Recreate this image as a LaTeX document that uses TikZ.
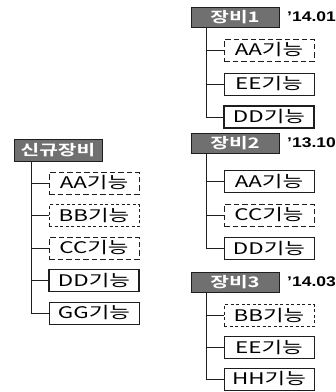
\documentclass[tikz,border=0pt]{standalone}
\usepackage{fontspec}
\usepackage{xcolor}
\usetikzlibrary{positioning}
\setmainfont{Noto Sans CJK KR}[FakeStretch=1.4,BoldFont={Noto Sans CJK KR Bold}]
\newfontfamily\datefont{Liberation Sans}[FakeStretch=1.25]
\definecolor{hdrgray}{RGB}{112,112,112}
\definecolor{linedark}{RGB}{30,30,30}

\begin{document}
\begin{tikzpicture}[
  x=1pt,y=-1pt,
  hdr/.style={rectangle,draw=linedark,thick,fill=hdrgray,text=white,minimum width=88pt,minimum height=20pt,inner sep=0pt,font=\fontsize{14.5}{15}\selectfont\bfseries},
  func/.style={rectangle,draw=linedark,line width=0.9pt,fill=white,minimum width=90pt,minimum height=22pt,inner sep=0pt,font=\fontsize{16}{16}\selectfont},
  newf/.style={func,dash pattern=on 5.5pt off 3pt},
  dotf/.style={func,dash pattern=on 3pt off 2.5pt},
  keyf/.style={func,line width=1.8pt},
  date/.style={anchor=west,inner sep=0pt,font=\datefont\bfseries\fontsize{14}{14}\selectfont},
  branch/.style={draw=linedark,line width=0.9pt}
]
\useasboundingbox (0,0) rectangle (336,392);
% new equipment
\node[hdr,minimum height=22pt] (h0) at (58,150) {신규장비};
\node[newf] (f0a) at (94,183) {AA기능};
\node[dotf] (f0b) at (94,215.5) {BB기능};
\node[newf] (f0c) at (94,248) {CC기능};
\node[keyf] (f0d) at (94,280.5) {DD기능};
\node[func] (f0g) at (94,313) {GG기능};
\draw[branch] ([xshift=18pt]h0.south west) |- (f0a.west);
\draw[branch] ([xshift=18pt]h0.south west) |- (f0b.west);
\draw[branch] ([xshift=18pt]h0.south west) |- (f0c.west);
\draw[branch] ([xshift=18pt]h0.south west) |- (f0d.west);
\draw[branch] ([xshift=18pt]h0.south west) |- (f0g.west);
% equipment 1
\node[hdr] (h1) at (235,17) {장비1};
\node[date] (d1) at (287,17) {’14.01};
\node[newf] (f1a) at (269,50) {AA기능};
\node[func] (f1e) at (269,84) {EE기능};
\node[keyf] (f1d) at (269,117) {DD기능};
\draw[branch] ([xshift=16pt]h1.south west) |- (f1a.west);
\draw[branch] ([xshift=16pt]h1.south west) |- (f1e.west);
\draw[branch] ([xshift=16pt]h1.south west) |- (f1d.west);
% equipment 2
\node[hdr] (h2) at (235,143) {장비2};
\node[date] (d2) at (287,143) {’13.10};
\node[func] (f2a) at (269,181.5) {AA기능};
\node[newf] (f2c) at (269,215) {CC기능};
\node[func] (f2d) at (269,248.5) {DD기능};
\draw[branch] ([xshift=16pt]h2.south west) |- (f2a.west);
\draw[branch] ([xshift=16pt]h2.south west) |- (f2c.west);
\draw[branch] ([xshift=16pt]h2.south west) |- (f2d.west);
% equipment 3
\node[hdr] (h3) at (235,282) {장비3};
\node[date] (d3) at (287,282) {’14.03};
\node[dotf] (f3b) at (269,315.5) {BB기능};
\node[func] (f3e) at (269,347.5) {EE기능};
\node[func] (f3h) at (269,379) {HH기능};
\draw[branch] ([xshift=16pt]h3.south west) |- (f3b.west);
\draw[branch] ([xshift=16pt]h3.south west) |- (f3e.west);
\draw[branch] ([xshift=16pt]h3.south west) |- (f3h.west);
\end{tikzpicture}
\end{document}
